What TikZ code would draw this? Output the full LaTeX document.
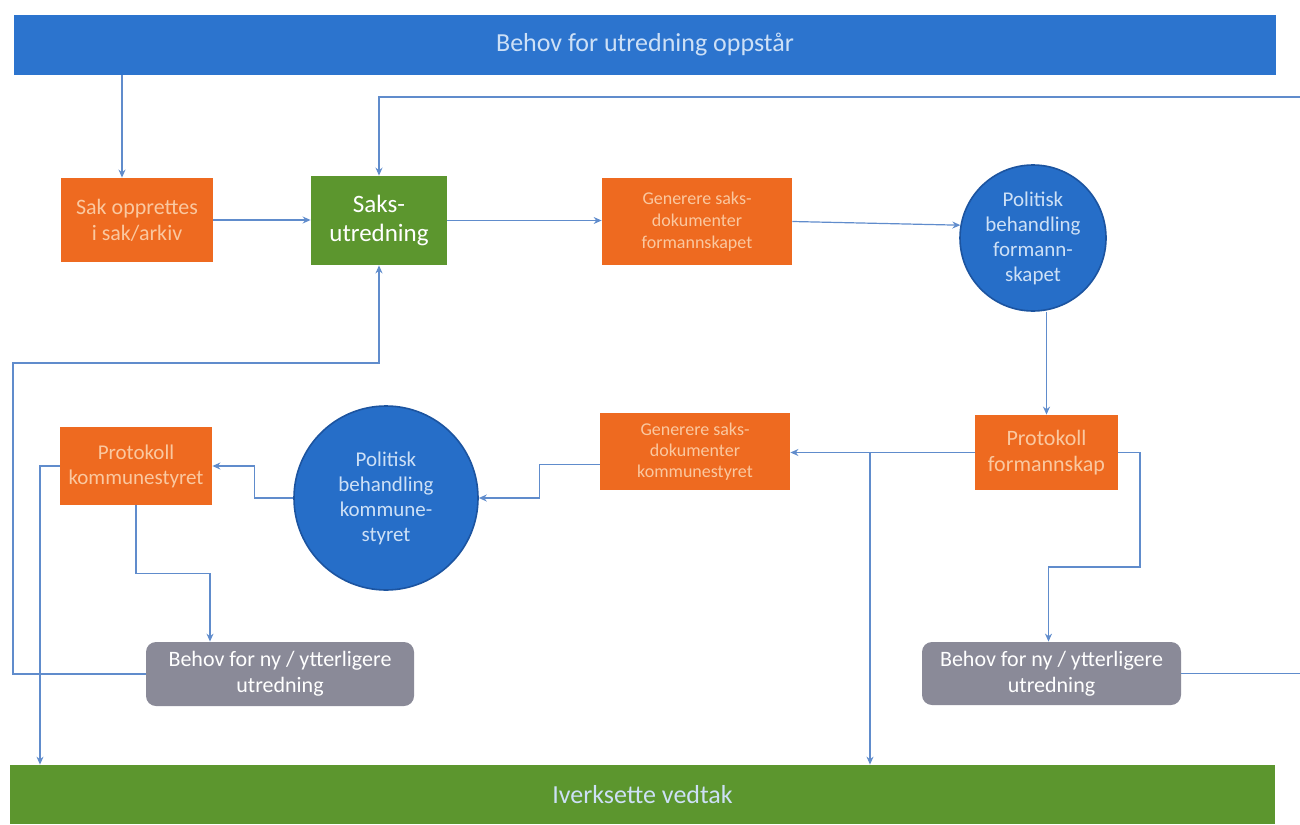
\documentclass[tikz,border=0pt]{standalone}
\usepackage{fontspec}
\setmainfont{Carlito}
\usetikzlibrary{arrows.meta}

\definecolor{barblue}{RGB}{44,116,206}
\definecolor{bargreen}{RGB}{92,150,46}
\definecolor{boxorange}{RGB}{238,106,32}
\definecolor{boxgray}{RGB}{138,138,152}
\definecolor{ballblue}{RGB}{38,110,200}
\definecolor{ballrim}{RGB}{28,84,160}
\definecolor{linkblue}{RGB}{96,140,204}
\definecolor{peach}{RGB}{250,200,160}
\definecolor{paleblue}{RGB}{205,224,246}

\begin{document}
\begin{tikzpicture}[x=0.5pt, y=-0.5pt,
    bar/.style={fill=#1, text=paleblue, inner sep=0pt, font=\fontsize{13}{15}\selectfont},
    obox/.style={fill=boxorange, text=peach, align=center, inner sep=1pt},
    gbox/.style={fill=boxgray, text=white, align=center, rounded corners=5pt,
                 inner sep=1pt, font=\fontsize{11}{13}\selectfont},
    ball/.style={circle, fill=ballblue, draw=ballrim, line width=0.8pt, text=paleblue,
                 align=center, inner sep=0pt},
    link/.style={draw=linkblue, line width=0.6pt, -{Stealth[length=4pt,width=3.5pt]}}]
    \useasboundingbox (0,0) rectangle (1300,824);
    \clip (0,0) rectangle (1300,824);

    \node[bar=barblue, minimum width=631pt, minimum height=30pt] (top) at (645,45) {Behov for utredning oppstår};
    \node[bar=bargreen, minimum width=632.5pt, minimum height=29.5pt] (bottom) at (642.5,794.5) {Iverksette vedtak};

    \node[obox, minimum width=76pt, minimum height=42pt, font=\fontsize{11}{13}\selectfont] (sak) at (137,220) {Sak opprettes\\ i sak/arkiv};
    \node[fill=bargreen, text=white, align=center, inner sep=1pt, minimum width=68pt, minimum height=44.5pt,
          font=\fontsize{12.5}{14.5}\selectfont] (saks) at (379,220.5) {Saks-\\utredning};
    \node[obox, minimum width=95pt, minimum height=43.5pt, font=\fontsize{9}{11}\selectfont] (genF) at (697,221.5) {Generere saks-\\dokumenter\\formannskapet};
    \node[ball, minimum size=73pt, font=\fontsize{10.5}{12.5}\selectfont] (polF) at (1033,238) {Politisk\\behandling\\formann-\\skapet};
    \node[obox, minimum width=71.5pt, minimum height=37.5pt, font=\fontsize{11}{13}\selectfont] (protF) at (1046.5,452.5) {Protokoll\\formannskap};
    \node[obox, minimum width=95pt, minimum height=38.5pt, font=\fontsize{9}{10.5}\selectfont] (genK) at (695,451.5) {Generere saks-\\dokumenter\\kommunestyret};
    \node[ball, minimum size=92pt, font=\fontsize{10.5}{12.5}\selectfont] (polK) at (386,498) {Politisk\\behandling\\kommune-\\styret};
    \node[obox, minimum width=76pt, minimum height=39pt, font=\fontsize{10.5}{12.5}\selectfont] (protK) at (136,466) {Protokoll\\kommunestyret};
    \node[gbox, minimum width=134pt, minimum height=32pt] (behL) at (280,674) {Behov for ny / ytterligere\\utredning};
    \node[gbox, minimum width=129.5pt, minimum height=31.5pt] (behR) at (1051.5,673.5) {Behov for ny / ytterligere\\utredning};

    \coordinate (split) at (870,452);
    \coordinate (left) at (40,466);

    % upper row
    \draw[link] ([xshift=-7.5pt]sak.north |- top.south) -- ([xshift=-7.5pt]sak.north);
    \draw[link] (sak.east) -- (sak.east -| saks.west);
    \draw[link] (saks.east) -- (saks.east -| genF.west);
    \draw[link] (genF.east) -- (polF.170);
    \draw[link] (polF.south -| protF.north) -- (protF.north);

    % lower row
    \draw[link] (protF.west) -- (protF.west -| genK.east);
    \draw[link] (split) -- (split |- bottom.north);
    \draw[link] ([yshift=-6.5pt]genK.west) -- ++(-60,0) |- (polK.east);
    \draw[link] (polK.west) -- ++(-39,0) |- (protK.east);
    \draw[link] (protK.west) -- (left) -- (left |- bottom.north);
    \draw[link] (protK.south) -- ++(0,68) -| ([xshift=-35pt]behL.north);
    \draw[link] (protF.east) -| (1140,567) -| ([xshift=-1.5pt]behR.north);

    % loops back to the study
    \draw[link] (behL.west) -| (13,363) -| (saks.south);
    \draw[link] (behR.east) -| (1310,97) -| (saks.north);
\end{tikzpicture}
\end{document}
